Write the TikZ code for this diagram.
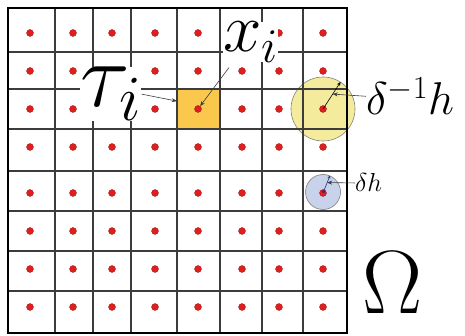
\documentclass[tikz,border=0pt]{standalone}
\usepackage{fix-cm}
\usepackage{xcolor}
\usepackage{tikz}
\usetikzlibrary{arrows.meta, calc}
\definecolor{gridgray}{HTML}{3C3C3C}
\definecolor{sitered}{HTML}{E01E1E}
\definecolor{cellorange}{HTML}{F9C84C}
\definecolor{ballyellow}{HTML}{F4EC9C}
\definecolor{ballblue}{HTML}{C8D2EA}
\definecolor{pointblue}{HTML}{1E2E8C}

\tikzset{
  gridline/.style={draw=gridgray, line width=1.2pt},
  site/.style={circle, fill=sitered, draw=sitered!70!black, line width=0.3pt,
               inner sep=0pt, minimum size=7pt},
  biglabel/.style={fill=white, inner sep=0pt, anchor=base west},
  sidelabel/.style={inner sep=0pt, anchor=base west},
  pointer/.style={draw=gridgray, line width=0.6pt, -{Stealth[length=5pt, width=4pt]}},
}

\begin{document}
\begin{tikzpicture}[x=1pt, y=-1pt]
  \fill[white] (0,0) rectangle (465,336);
  \useasboundingbox (0,0) rectangle (465,336);
  % cell and balls lie under the grid
  \node[fill=cellorange, minimum width=43pt, minimum height=40pt, inner sep=0pt] (cell) at (198.5,109) {};
  \node[circle, fill=ballyellow, draw=gray, line width=0.6pt, minimum size=64pt, inner sep=0pt] (bigball) at (323,109) {};
  \node[circle, fill=ballblue, draw=gray, line width=0.6pt, minimum size=35pt, inner sep=0pt] (smallball) at (323,192) {};

  \foreach \gx in {55,93,131,177,220,262,303}
    \draw[gridline] (\gx,8) -- (\gx,333);
  \foreach \gy in {52,89,129,171,211,251,291}
    \draw[gridline] (8,\gy) -- (347,\gy);
  \draw[black, line width=2.5pt] (8,8) rectangle (347,333);

  \foreach \dx [count=\i] in {30,73,112,155,198,242,279,323}
    \foreach \dy [count=\j] in {33,71,109,147,193,231,269,307}
      \node[site] (s\i\j) at (\dx,\dy) {};

  \node[biglabel, font=\fontsize{92}{92}\selectfont] (tau) at (80,107) {$\tau_i$};
  \node[biglabel, font=\fontsize{69}{69}\selectfont] (xlabel) at (223,52) {$x_i$};
  \node[sidelabel, font=\fontsize{46}{46}\selectfont] (widelabel) at (366,115) {$\delta^{-1}h$};
  \node[sidelabel, font=\fontsize{26}{26}\selectfont] (narrowlabel) at (355,192) {$\delta h$};
  \node[sidelabel, font=\fontsize{90}{90}\selectfont] (domain) at (362,313) {$\Omega$};

  \draw[pointer] (tau.east) -- (cell.160);
  \draw[pointer] ($(xlabel.south west)+(6,5)$) -- (s53);

  \draw[black, line width=0.6pt, -{Stealth[length=4pt, width=3.5pt]}] (s83.center) -- (bigball.57);
  \coordinate (radius1) at ($(s83)!0.55!(bigball.57)$);
  \draw[pointer] (widelabel.west) -- (radius1);

  \draw[pointblue, line width=0.6pt, {Circle[length=3pt]}-{Stealth[length=3pt, width=3pt]}] (s85.center) -- (smallball.67);
  \coordinate (radius2) at ($(s85)!0.6!(smallball.67)$);
  \draw[pointer] (narrowlabel.west) -- (radius2);
\end{tikzpicture}
\end{document}
